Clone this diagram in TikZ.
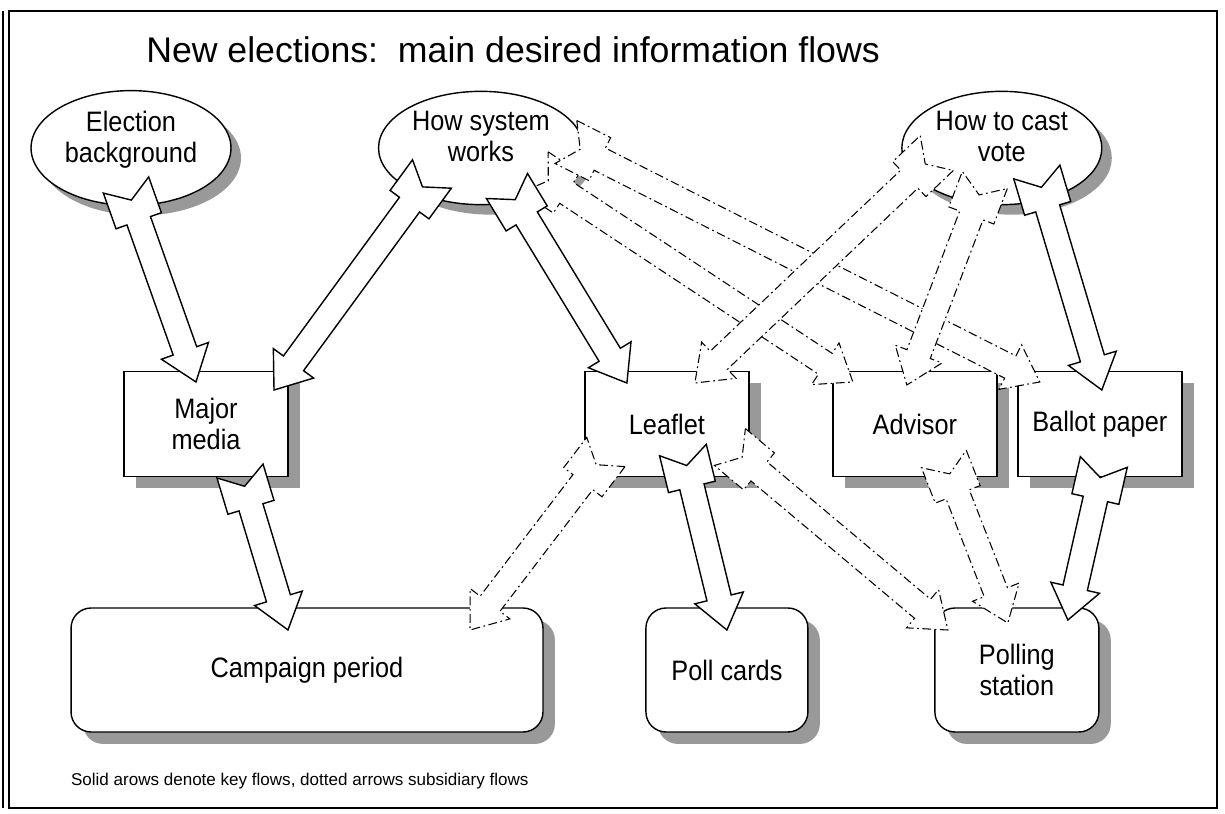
\documentclass[tikz,border=0pt]{standalone}
\usepackage{fontspec}
\setmainfont{Liberation Sans}
\newfontfamily\narrowsans{Liberation Sans}[FakeStretch=0.9]
\usepackage{tikz}
\usetikzlibrary{calc,shadows,shapes.geometric,positioning}

\begin{document}
\begin{tikzpicture}[x=0.02cm, y=-0.02cm, semithick, inner sep=2pt, node distance=1cm,
  topic/.style={ellipse, draw, thick, fill=white, minimum width=4cm, minimum height=2.12cm,
    align=center, text depth=13pt, font=\narrowsans\fontsize{16}{17.6}\selectfont,
    drop shadow={shadow xshift=5.7pt, shadow yshift=-5.7pt, fill=black!40, opacity=1}},
  channel/.style={rectangle, draw, thick, fill=white, minimum width=3.28cm, minimum height=2.1cm,
    align=center, font=\narrowsans\fontsize{16}{17.6}\selectfont,
    drop shadow={shadow xshift=6.8pt, shadow yshift=-6.8pt, fill=black!40, opacity=1}},
  outlet/.style={channel, rounded corners=0.4cm, minimum height=2.48cm},
  flowframe/.style={shift={(\p1)}, rotate=\n1},
  flow/.style={fill=white, to path={let \p1=(\tikztostart), \p2=(\tikztotarget),
      \n1={atan2(\y2-\y1,\x2-\x1)}, \n2={veclen(\x2-\x1,\y2-\y1)} in
      ([flowframe]0pt,13.7pt) -- ([flowframe]21.6pt,13.7pt) -- ([flowframe]21.6pt,7.1pt)
      -- ([flowframe]\n2-18.8pt,7.1pt) -- ([flowframe]\n2-18.8pt,14.2pt) -- ([flowframe]\n2+0pt,0pt)
      -- ([flowframe]\n2-18.8pt,-14.2pt) -- ([flowframe]\n2-18.8pt,-7.1pt) -- ([flowframe]21.6pt,-7.1pt)
      -- ([flowframe]21.6pt,-13.7pt) -- ([flowframe]0pt,-13.7pt) -- ([flowframe]9.1pt,0pt) -- cycle}},
  keyflow/.style={flow, thick},
  subflow/.style={flow, dash pattern=on 5pt off 2pt on 1pt off 2pt}]
%
\useasboundingbox (0,0) rectangle (1225,814);
\draw (9,11) rectangle (1217,808);
\draw (3,11) -- (3,808);
%
\node (title) [anchor=base, font=\fontsize{20.3}{24}\selectfont] at (513,63) {New elections:\ \ main desired information flows};
%
\node (bg) [topic] at (131,148) {Election\\background};
\node (sys) [topic, right of=bg, node distance=7cm] {How system\\works};
\node (vote) [topic, right of=sys, node distance=10.42cm] {How to cast\\vote};
%
\node (media) [channel] at (206,424) {Major\\media};
\node (leaflet) [channel, right of=media, node distance=9.22cm] {Leaflet};
\node (advisor) [channel, right of=leaflet, node distance=4.96cm] {Advisor};
\node (ballot) [channel, right of=advisor, node distance=3.7cm] {Ballot paper};
%
\node (campaign) [outlet, minimum width=9.44cm] at (307,670) {Campaign period};
\node (cards) [outlet, minimum width=3.24cm, right of=campaign, node distance=8.4cm] {Poll cards};
\node (station) [outlet, right of=cards, node distance=5.8cm] {Polling\\station};
%
\node (note) [anchor=base west, font=\fontsize{9.7}{12}\selectfont] at (67,785) {Solid arows denote key flows, dotted arrows subsidiary flows};
%
% subsidiary flows
\path ($(sys)+(54,24)$) edge[subflow] ($(advisor)+(-62,-42)$);
\path ($(sys)+(85,-6)$) edge[subflow] ($(ballot)+(-60,-42)$);
\path ($(vote)+(-65,5)$) edge[subflow] ($(leaflet)+(28,-41)$);
\path ($(vote)+(-17,32)$) edge[subflow] ($(advisor)+(-8,-39)$);
\path ($(leaflet)+(-61,28)$) edge[subflow] ($(campaign)+(163,-40)$);
\path ($(leaflet)+(63,23)$) edge[subflow] ($(station)+(-69,-40)$);
\path ($(advisor)+(29,35)$) edge[subflow] ($(station)+(-9,-47)$);
%
% key flows
\path ($(bg)+(-5,37)$) edge[keyflow] ($(media)+(-10,-42)$);
\path ($(sys)+(-49,26)$) edge[keyflow] ($(media)+(68,-34)$);
\path ($(sys)+(26,38)$) edge[keyflow] ($(leaflet)+(-40,-41)$);
\path ($(media)+(34,47)$) edge[keyflow] ($(campaign)+(-19,-40)$);
\path ($(vote)+(35,24)$) edge[keyflow] ($(ballot)+(2,-34)$);
\path ($(leaflet)+(16,26)$) edge[keyflow] ($(cards)+(0,-40)$);
\path ($(ballot)+(4,38)$) edge[keyflow] ($(station)+(51,-50)$);
\end{tikzpicture}
\end{document}
